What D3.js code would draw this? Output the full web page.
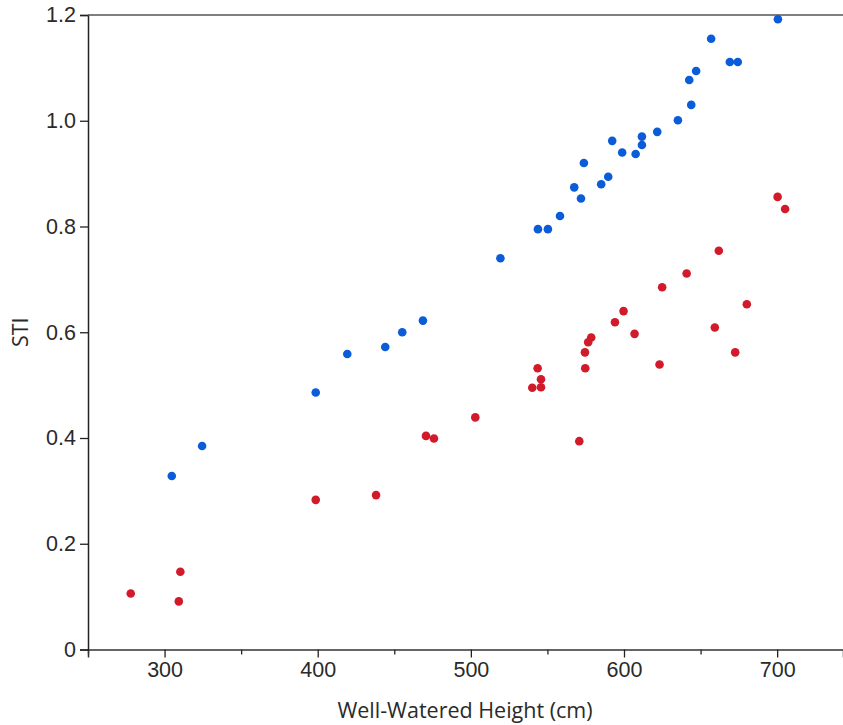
<!DOCTYPE html>
<html>
<head>
<meta charset="utf-8">
<script src="https://cdn.jsdelivr.net/npm/d3@7"></script>
<style>
  html, body { margin: 0; padding: 0; background: #fff; }
  svg { display: block; font-family: "Open Sans", "Noto Sans", sans-serif; }
</style>
</head>
<body>
<svg id="chart" width="843" height="725"></svg>
<script>
  // well-watered height (cm) and STI, one pair per genotype
  const blueX = [304.7, 324.5, 398.7, 419.3, 444.1, 455.2, 468.7, 519.3, 543.8, 550.3,
                 558.2, 567.5, 571.9, 573.8, 585.1, 589.7, 592.3, 598.8, 607.6, 611.7,
                 611.7, 621.7, 635.2, 643.9, 642.6, 647.1, 656.9, 669.1, 674.3, 700.5];
  const blueY = [0.328, 0.385, 0.486, 0.559, 0.572, 0.600, 0.622, 0.740, 0.795, 0.795,
                 0.820, 0.874, 0.853, 0.920, 0.880, 0.894, 0.962, 0.940, 0.937, 0.954,
                 0.970, 0.979, 1.001, 1.030, 1.077, 1.094, 1.155, 1.111, 1.111, 1.192];

  const redX = [277.9, 310.3, 309.3, 398.7, 438.1, 470.7, 475.9, 502.9, 540.1, 545.8,
                545.8, 543.6, 570.8, 574.7, 574.5, 576.6, 578.6, 594.1, 599.7, 606.9,
                624.9, 623.2, 640.9, 659.3, 661.9, 672.6, 680.2, 700.3, 705.2];
  const redY = [0.106, 0.147, 0.091, 0.283, 0.292, 0.404, 0.399, 0.439, 0.495, 0.496,
                0.511, 0.532, 0.394, 0.532, 0.562, 0.581, 0.590, 0.619, 0.640, 0.597,
                0.685, 0.539, 0.711, 0.609, 0.754, 0.562, 0.653, 0.856, 0.833];

  const xTicks = [300, 400, 500, 600, 700];
  const xMinor = [250, 350, 450, 550, 650];
  const yTicks = [0, 0.2, 0.4, 0.6, 0.8, 1.0, 1.2];

  const svg = d3.select("#chart");
  const W = 843, H = 725;
  const margin = { top: 15, right: 0, bottom: 75.5, left: 88 };
  const innerW = W - margin.left - margin.right;
  const innerH = H - margin.top - margin.bottom;

  const g = svg.append("g").attr("transform", `translate(${margin.left},${margin.top})`);

  const x = d3.scaleLinear().domain([250, 743]).range([0, innerW]);
  const y = d3.scaleLinear().domain([0, 1.2]).range([innerH, 0]);

  const textColor = "#2a2a2a";
  const fontSize = "21.5px";

  /* ---------- AXES ---------- */
  g.append("g")
    .attr("transform", `translate(0,${innerH})`)
    .call(d3.axisBottom(x).tickValues(xMinor).tickSize(5).tickFormat(""))
    .call(a => a.select(".domain").remove())
    .call(a => a.selectAll("line").attr("stroke", "#222").attr("stroke-width", 1.3));

  g.append("g")
    .attr("transform", `translate(0,${innerH})`)
    .call(d3.axisBottom(x).tickValues(xTicks).tickSize(8).tickPadding(4).tickFormat(d3.format("d")))
    .call(a => a.select(".domain").attr("stroke", "#333").attr("stroke-width", 1.5))
    .call(a => a.selectAll("line").attr("stroke", "#222").attr("stroke-width", 1.3))
    .call(a => a.selectAll("text").attr("fill", textColor).style("font-size", fontSize));

  g.append("g")
    .call(d3.axisLeft(y).tickValues(yTicks).tickSize(8).tickPadding(4)
      .tickFormat(d => d === 0 ? "0" : d3.format(".1f")(d)))
    .call(a => a.select(".domain").attr("stroke", "#222").attr("stroke-width", 1.5))
    .call(a => a.selectAll("line").attr("stroke", "#222").attr("stroke-width", 1.3))
    .call(a => a.selectAll("text").attr("fill", textColor).style("font-size", fontSize));

  // top frame line
  g.append("line")
    .attr("x1", 0).attr("x2", innerW)
    .attr("y1", y(1.2)).attr("y2", y(1.2))
    .attr("stroke", "#555").attr("stroke-width", 1.5);

  /* ---------- POINTS ---------- */
  const blue = blueX.map((v, i) => ({ x: v, y: blueY[i] }));
  const red = redX.map((v, i) => ({ x: v, y: redY[i] }));

  g.append("g").selectAll("circle")
    .data(red)
    .join("circle")
    .attr("cx", d => x(d.x))
    .attr("cy", d => y(d.y))
    .attr("r", 4.3)
    .attr("fill", "#d11a2a");

  g.append("g").selectAll("circle")
    .data(blue)
    .join("circle")
    .attr("cx", d => x(d.x))
    .attr("cy", d => y(d.y))
    .attr("r", 4.3)
    .attr("fill", "#0a5cd8");

  /* ---------- LABELS ---------- */
  svg.append("text")
    .attr("x", 465)
    .attr("y", 718)
    .attr("text-anchor", "middle")
    .attr("fill", textColor)
    .style("font-size", fontSize)
    .text("Well-Watered Height (cm)");

  svg.append("text")
    .attr("transform", `translate(28,${margin.top + y(0.6)}) rotate(-90)`)
    .attr("text-anchor", "middle")
    .attr("fill", textColor)
    .style("font-size", fontSize)
    .text("STI");
</script>
</body>
</html>
